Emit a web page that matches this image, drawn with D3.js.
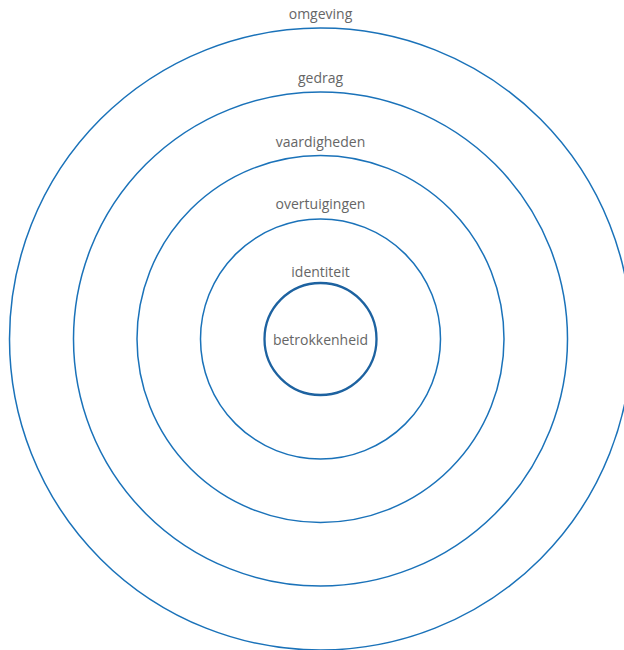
<!DOCTYPE html>
<html><head><meta charset="utf-8">
<script src="https://cdn.jsdelivr.net/npm/d3@7"></script>
<style>html,body{margin:0;padding:0;background:#fff;overflow:hidden}</style>
</head><body>
<svg id="chart" width="624" height="650"></svg>
<script>
const labels = ["betrokkenheid","identiteit","overtuigingen","vaardigheden","gedrag","omgeving"];
const ringValues = [0, 56, 120, 183.5, 247, 311];

const svg = d3.select("#chart");
const cx = 320.5, cy = 339;
const r = d3.scaleLinear().domain([0, 311]).range([0, 311]);

const g = svg.append("g").attr("transform", `translate(${cx},${cy})`);

const rings = ringValues.slice(1);
g.selectAll("circle.ring").data(rings).enter().append("circle")
  .attr("class","ring")
  .attr("r", d => r(d))
  .attr("fill","none")
  .attr("stroke", (d,i) => i === 0 ? "#1d62a0" : "#1a72b9")
  .attr("stroke-width", (d,i) => i === 0 ? 2.3 : 1.5);

const labelOffsets = [0, 6, 10, 9, 9, 9];
g.selectAll("text.lab").data(labels).enter().append("text")
  .attr("class","lab")
  .attr("x", 0)
  .attr("y", (d,i) => i === 0 ? 6 : -r(ringValues[i]) - labelOffsets[i])
  .attr("text-anchor","middle")
  .attr("font-family","'Open Sans', 'Noto Sans', sans-serif")
  .attr("font-size", 14)
  .attr("fill","#666666")
  .text(d => d);
</script>
</body></html>
